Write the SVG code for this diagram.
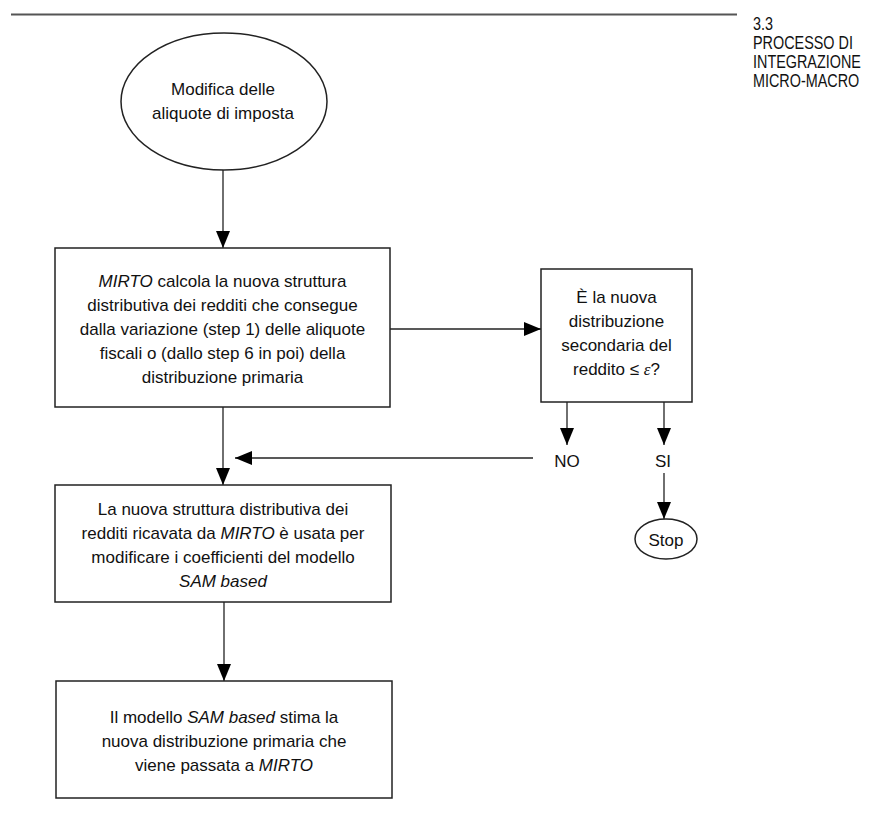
<svg xmlns="http://www.w3.org/2000/svg" width="869" height="816" viewBox="0 0 869 816">
<style>
.t{font-family:"Liberation Sans",Arial,sans-serif;font-size:17px;fill:#111;text-anchor:middle}
.h{font-family:"Liberation Sans",Arial,sans-serif;font-size:18px;fill:#111}
.i{font-style:italic}
.box{fill:#fff;stroke:#222;stroke-width:1.5}
.c{fill:none;stroke:#222;stroke-width:1.3}
</style>
<defs>
<marker id="ah" markerUnits="userSpaceOnUse" markerWidth="18" markerHeight="14" refX="17" refY="7" orient="auto">
<path d="M0,0 L17,7 L0,14 z" fill="#000"/>
</marker>
</defs>
<rect width="869" height="816" fill="#fff"/>
<line x1="11" y1="14.5" x2="737" y2="14.5" stroke="#555" stroke-width="2"/>
<g id="header" transform="translate(753,0) scale(0.8,1)">
<text class="h" x="0" y="30">3.3</text>
<text class="h" x="0" y="49">PROCESSO DI</text>
<text class="h" x="0" y="68">INTEGRAZIONE</text>
<text class="h" x="0" y="87">MICRO-MACRO</text>
</g>
<g id="connectors">
<line class="c" x1="223" y1="170" x2="223" y2="248" marker-end="url(#ah)"/>
<line class="c" x1="390" y1="329" x2="541" y2="329" marker-end="url(#ah)"/>
<line class="c" x1="567" y1="402" x2="567" y2="445" marker-end="url(#ah)"/>
<line class="c" x1="664" y1="402" x2="664" y2="445" marker-end="url(#ah)"/>
<line class="c" x1="533" y1="458" x2="235" y2="458" marker-end="url(#ah)"/>
<line class="c" x1="223" y1="407" x2="223" y2="485" marker-end="url(#ah)"/>
<line class="c" x1="664" y1="473" x2="664" y2="519" marker-end="url(#ah)"/>
<line class="c" x1="224" y1="602" x2="224" y2="681" marker-end="url(#ah)"/>
</g>
<g id="start">
<ellipse class="box" cx="224" cy="101.5" rx="103" ry="68.5"/>
<text class="t" x="223" y="95">Modifica delle</text>
<text class="t" x="223" y="119">aliquote di imposta</text>
</g>
<g id="mirto">
<rect class="box" x="55" y="248" width="335" height="159"/>
<text class="t" x="222.5" y="287"><tspan class="i">MIRTO</tspan> calcola la nuova struttura</text>
<text class="t" x="222.5" y="311">distributiva dei redditi che consegue</text>
<text class="t" x="222.5" y="335">dalla variazione (step 1) delle aliquote</text>
<text class="t" x="222.5" y="359">fiscali o (dallo step 6 in poi) della</text>
<text class="t" x="222.5" y="383">distribuzione primaria</text>
</g>
<g id="decision">
<rect class="box" x="541" y="269" width="151" height="133"/>
<text class="t" x="616.5" y="303">È la nuova</text>
<text class="t" x="616.5" y="327">distribuzione</text>
<text class="t" x="616.5" y="351">secondaria del</text>
<text class="t" x="616.5" y="375">reddito ≤ <tspan font-family="'Liberation Serif',serif" font-style="italic">ε</tspan>?</text>
</g>
<g id="no">
<text class="t" x="567" y="467">NO</text>
</g>
<g id="si">
<text class="t" x="663" y="467">SI</text>
</g>
<g id="stop">
<ellipse class="box" cx="666" cy="539" rx="31" ry="20"/>
<text class="t" x="666" y="546">Stop</text>
</g>
<g id="coeff">
<rect class="box" x="55" y="485" width="336" height="117"/>
<text class="t" x="223" y="515">La nuova struttura distributiva dei</text>
<text class="t" x="223" y="539">redditi ricavata da <tspan class="i">MIRTO</tspan> è usata per</text>
<text class="t" x="223" y="563">modificare i coefficienti del modello</text>
<text class="t i" x="223" y="587">SAM based</text>
</g>
<g id="sam">
<rect class="box" x="56" y="681" width="336" height="117"/>
<text class="t" x="224" y="723">Il modello <tspan class="i">SAM based</tspan> stima la</text>
<text class="t" x="224" y="747">nuova distribuzione primaria che</text>
<text class="t" x="224" y="771">viene passata a <tspan class="i">MIRTO</tspan></text>
</g>
</svg>
